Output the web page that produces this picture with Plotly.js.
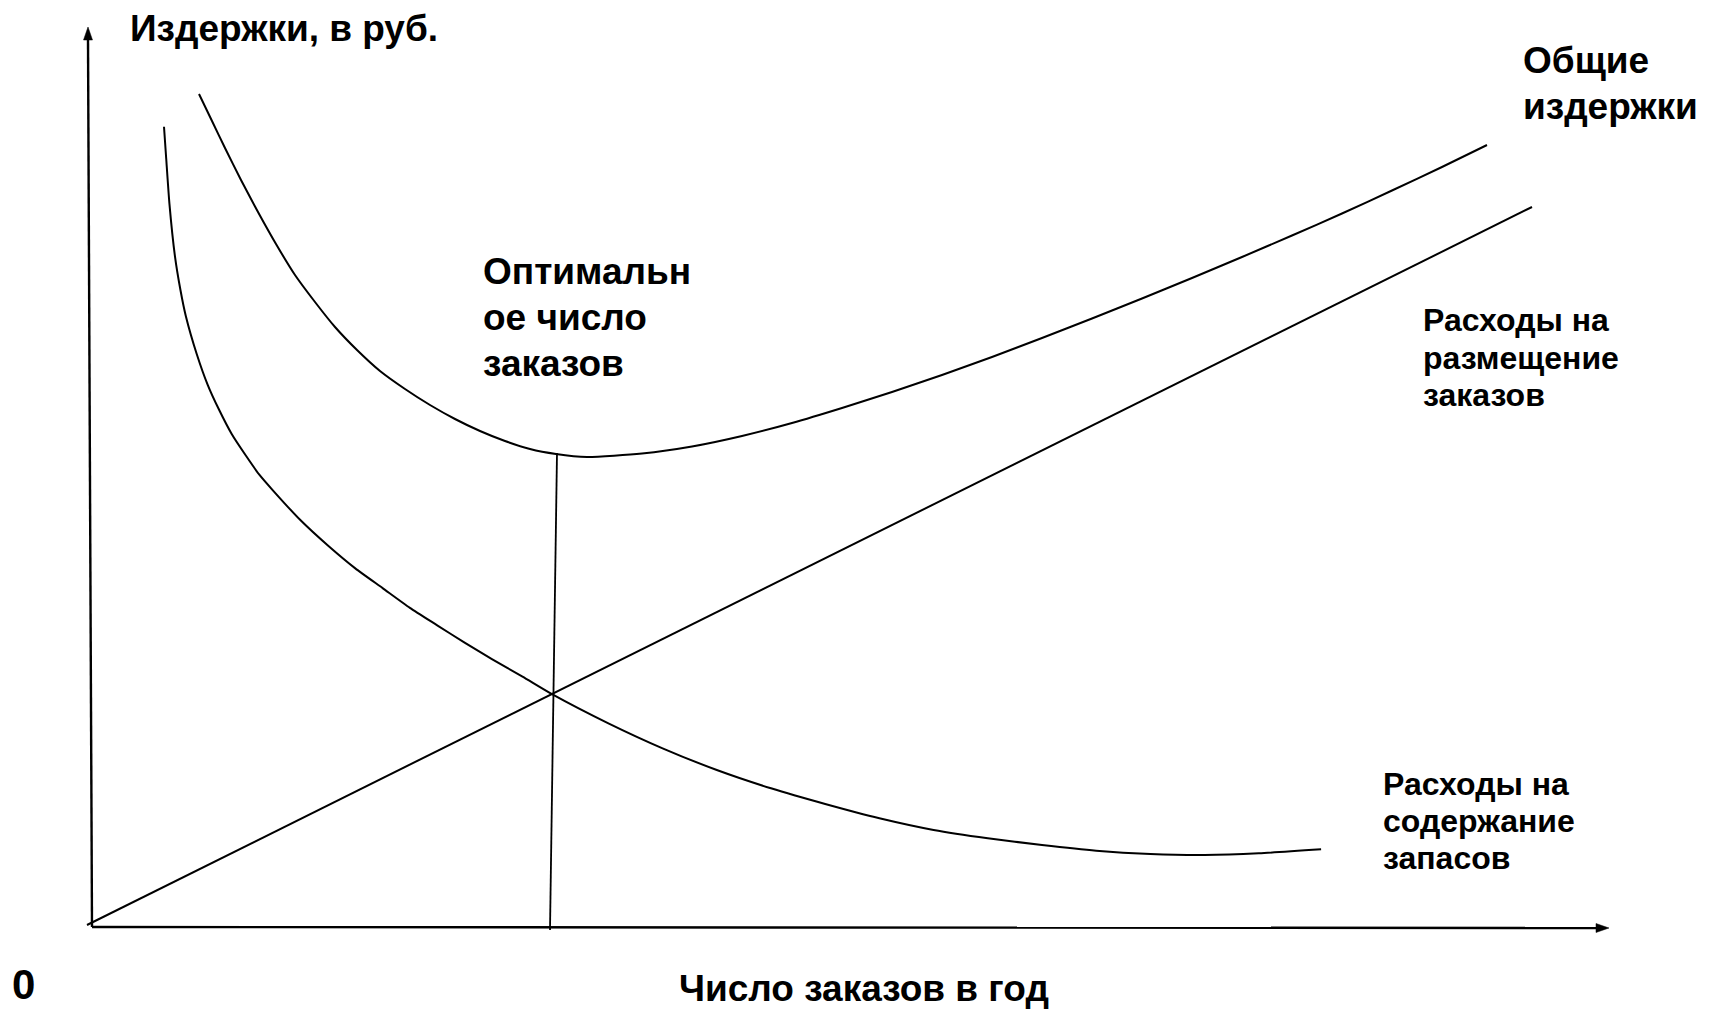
<!DOCTYPE html>
<html>
<head>
<meta charset="utf-8">
<script src="https://cdn.plot.ly/plotly-3.0.1.min.js"></script>
<style>
  html, body { margin: 0; padding: 0; background: #ffffff; }
  #chart { width: 1714px; height: 1011px; }
</style>
</head>
<body>
<div id="chart"></div>
<script>
// ---- Data (conceptual units: x = orders per year, y = costs) ----
// Holding (inventory carrying) costs curve
const holdingX = [7.20, 7.42, 7.74, 8.29, 8.84, 9.38, 10.48, 11.57, 12.66, 13.97, 15.40, 16.71, 18.13, 20.86, 23.59, 26.33, 29.06, 31.79, 34.52, 37.26, 39.99, 43.05, 46.00, 51.64, 57.06, 62.48, 67.90, 73.32, 78.74, 84.16, 89.58, 95.00, 100.42, 105.84, 111.26, 116.68, 122.91];
const holdingY = [80.02, 76.85, 72.37, 67.12, 63.73, 61.11, 57.28, 54.22, 51.82, 49.30, 47.12, 45.26, 43.62, 40.67, 38.15, 35.86, 33.89, 31.92, 30.17, 28.43, 26.79, 25.04, 23.29, 20.37, 17.87, 15.70, 13.87, 12.30, 10.87, 9.70, 8.87, 8.20, 7.63, 7.30, 7.20, 7.37, 7.77];

// Total costs curve
const totalX = [10.7, 12.0, 13.3, 14.9, 16.6, 18.4, 20.3, 22.3, 24.3, 26.5, 28.8, 31.3, 33.8, 36.3, 38.8, 41.3, 43.8, 46.4, 49.5, 55, 60, 65, 70, 75, 80, 85, 90, 95, 100, 105, 110, 115, 120, 125, 130, 135, 139.5];
const totalY = [83.3, 80.6, 77.9, 74.7, 71.5, 68.3, 65.2, 62.5, 60.0, 57.7, 55.6, 53.8, 52.2, 50.8, 49.6, 48.6, 47.8, 47.3, 47.0, 47.35, 48.05, 49.1, 50.4, 51.9, 53.5, 55.2, 57.0, 58.9, 60.85, 62.85, 64.9, 67.0, 69.15, 71.35, 73.65, 76.0, 78.2];

// Order placement costs (straight line)
const placementX = [-0.5, 144.0];
const placementY = [0.2, 72.0];

// Optimal number of orders (vertical marker line)
const optimumX = [46.5, 45.8];
const optimumY = [47.4, -0.3];

// Axes extents (tips of the arrows)
const xAxisTip = [151.7, -0.1];
const yAxisTip = [-0.4, 90.0];

// Texts
const yTitle = 'Издержки, в руб.';
const xTitle = 'Число заказов в год';
const originLabel = '0';
const totalLabel = ['Общие', 'издержки'];
const optimumLabel = ['Оптимальн', 'ое число', 'заказов'];
const placementLabel = ['Расходы на', 'размещение', 'заказов'];
const holdingLabel = ['Расходы на', 'содержание', 'запасов'];

// ---- Chart ----
const lineStyle = {color: '#000000', width: 2};
const traces = [
  {x: holdingX, y: holdingY, mode: 'lines', line: Object.assign({shape: 'spline', smoothing: 0.6}, lineStyle), hoverinfo: 'skip'},
  {x: totalX, y: totalY, mode: 'lines', line: Object.assign({shape: 'spline', smoothing: 0.6}, lineStyle), hoverinfo: 'skip'},
  {x: placementX, y: placementY, mode: 'lines', line: lineStyle, hoverinfo: 'skip'},
  {x: optimumX, y: optimumY, mode: 'lines', line: {color: '#000000', width: 1.8}, hoverinfo: 'skip'}
];

const font = (size) => ({family: '"Liberation Sans", Arial, sans-serif', size: size, color: '#000000', weight: 700});

function ann(text, x, y, size, xanchor) {
  return {text: text, x: x, y: y, xref: 'x', yref: 'y', showarrow: false,
          xanchor: xanchor || 'left', yanchor: 'middle', align: 'left', font: font(size), borderpad: 0};
}
function block(lines, x, yFirst, step, size) {
  return lines.map((t, i) => ann(t, x, yFirst - i * step, size));
}

const annotations = [
  ann(yTitle, 3.7, 89.9, 37),
  ...block(totalLabel, 143.0, 86.7, 4.6, 37),
  ...block(optimumLabel, 39.0, 65.6, 4.6, 37),
  ...block(placementLabel, 133.0, 60.67, 3.72, 32),
  ...block(holdingLabel, 129.0, 14.32, 3.72, 32),
  ann(originLabel, -6.9, -5.7, 42, 'center'),
  ann(xTitle, 77.2, -6.15, 37, 'center')
];

const shapes = [
  // x axis
  {type: 'line', xref: 'x', yref: 'y', x0: 0, y0: 0, x1: xAxisTip[0] - 1.2, y1: xAxisTip[1], line: {color: '#000', width: 2.4}},
  {type: 'path', xref: 'x', yref: 'y', path: `M ${xAxisTip[0]},${xAxisTip[1]} L ${xAxisTip[0]-1.3},${xAxisTip[1]+0.45} L ${xAxisTip[0]-1.3},${xAxisTip[1]-0.45} Z`, fillcolor: '#000', line: {color: '#000', width: 0.5}},
  // y axis
  {type: 'line', xref: 'x', yref: 'y', x0: 0, y0: 0, x1: yAxisTip[0], y1: yAxisTip[1] - 1.2, line: {color: '#000', width: 2.4}},
  {type: 'path', xref: 'x', yref: 'y', path: `M ${yAxisTip[0]},${yAxisTip[1]} L ${yAxisTip[0]-0.45},${yAxisTip[1]-1.3} L ${yAxisTip[0]+0.45},${yAxisTip[1]-1.3} Z`, fillcolor: '#000', line: {color: '#000', width: 0.5}}
];

const layout = {
  width: 1714, height: 1011,
  margin: {l: 0, r: 0, t: 0, b: 0, pad: 0},
  paper_bgcolor: '#ffffff', plot_bgcolor: '#ffffff',
  showlegend: false,
  xaxis: {range: [-9.2, 162.2], visible: false, fixedrange: true},
  yaxis: {range: [-8.4, 92.7], visible: false, fixedrange: true},
  annotations: annotations,
  shapes: shapes
};

Plotly.newPlot('chart', traces, layout, {staticPlot: true, displayModeBar: false});
</script>
</body>
</html>
